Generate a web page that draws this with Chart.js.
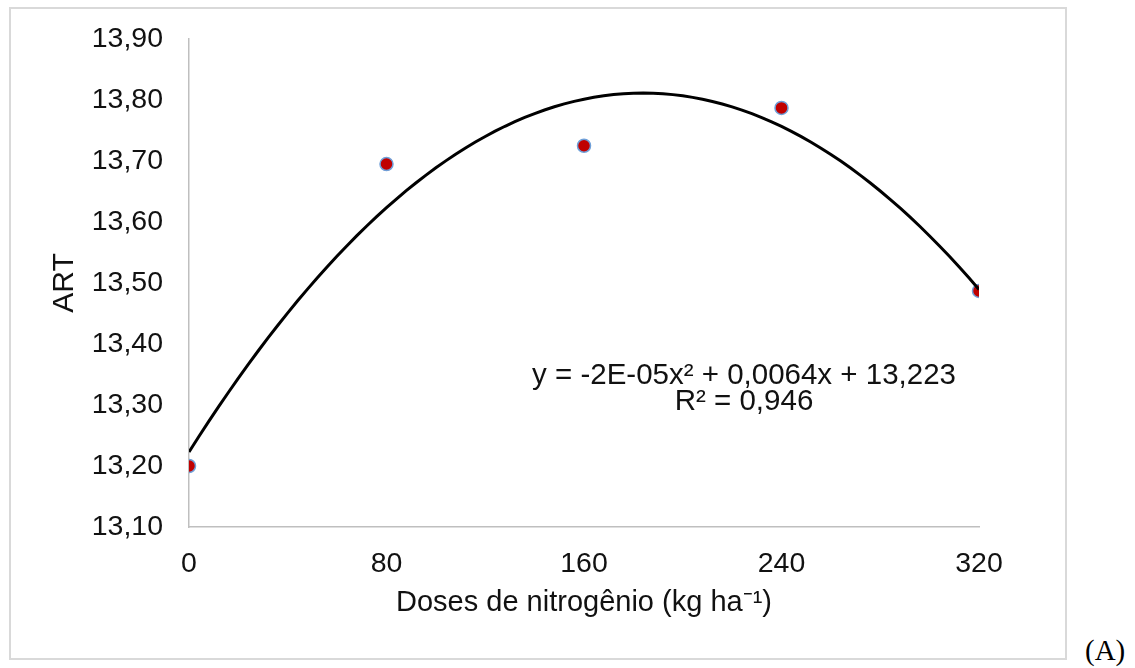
<!DOCTYPE html>
<html>
<head>
<meta charset="utf-8">
<script src="https://cdn.jsdelivr.net/npm/chart.js@4.4.1/dist/chart.umd.min.js"></script>
<style>
  body { margin: 0; background: #fff; }
  #box {
    position: absolute; left: 9px; top: 7px;
    width: 1058px; height: 653px;
    border: 2px solid #d9d9d9; box-sizing: border-box;
  }
  #wrap { position: relative; width: 100%; height: 100%; }
  #tag {
    position: absolute; left: 1085px; top: 634px;
    font: 29px "Liberation Serif", "Times New Roman", serif; color: #000;
  }
</style>
</head>
<body>
<div id="box"><div id="wrap"><canvas id="myChart"></canvas></div></div>
<div id="tag">(A)</div>
<script>
const doses = [0, 80, 160, 240, 320];
const art = [13.20, 13.695, 13.725, 13.787, 13.487];
const xTicks = [0, 80, 160, 240, 320];
const yTicks = [13.10, 13.20, 13.30, 13.40, 13.50, 13.60, 13.70, 13.80, 13.90];
const eqLines = ['y = -2E-05x\u00b2 + 0,0064x + 13,223', 'R\u00b2 = 0,946'];

// least squares quadratic fit (polynomial trendline of order 2)
function quadFit(xs, ys) {
  let s = [0, 0, 0, 0, 0], t = [0, 0, 0];
  xs.forEach((x, i) => {
    for (let k = 0; k < 5; k++) s[k] += Math.pow(x, k);
    for (let k = 0; k < 3; k++) t[k] += Math.pow(x, k) * ys[i];
  });
  const m = [[s[0], s[1], s[2], t[0]], [s[1], s[2], s[3], t[1]], [s[2], s[3], s[4], t[2]]];
  for (let i = 0; i < 3; i++) {
    for (let j = i + 1; j < 3; j++) {
      const f = m[j][i] / m[i][i];
      for (let k = i; k < 4; k++) m[j][k] -= f * m[i][k];
    }
  }
  const c = [0, 0, 0];
  for (let i = 2; i >= 0; i--) {
    let v = m[i][3];
    for (let k = i + 1; k < 3; k++) v -= m[i][k] * c[k];
    c[i] = v / m[i][i];
  }
  return c; // c0 + c1 x + c2 x^2
}

const coef = quadFit(doses, art);
const trend = [];
for (let x = doses[0]; x <= doses[doses.length - 1]; x += 4) {
  trend.push({ x: x, y: coef[0] + coef[1] * x + coef[2] * x * x });
}

const font = '"Liberation Sans", Arial, sans-serif';

const equationLabel = {
  id: 'equationLabel',
  afterDatasetsDraw(chart) {
    const { ctx, chartArea } = chart;
    ctx.save();
    ctx.font = '29.5px ' + font;
    ctx.fillStyle = '#111';
    ctx.textAlign = 'center';
    ctx.textBaseline = 'alphabetic';
    const cx = chartArea.left + 555;
    ctx.fillText(eqLines[0], cx, chartArea.top + 345);
    ctx.fillText(eqLines[1], cx, chartArea.top + 371);
    ctx.restore();
  }
};

new Chart(document.getElementById('myChart'), {
  type: 'scatter',
  data: {
    datasets: [{
      type: 'line',
      data: trend,
      borderColor: '#000',
      borderWidth: 3,
      pointRadius: 0,
      tension: 0,
      order: 0
    }, {
      data: doses.map((d, i) => ({ x: d, y: art[i] })),
      backgroundColor: '#c00000',
      borderColor: '#6f9fd8',
      borderWidth: 1.5,
      pointRadius: 6.5,
      order: 1
    }]
  },
  options: {
    responsive: true,
    maintainAspectRatio: false,
    animation: false,
    events: [],
    layout: { padding: { left: 0, top: 30, right: 86, bottom: 0 } },
    scales: {
      x: {
        type: 'linear',
        min: 0,
        max: 320,
        afterBuildTicks: s => { s.ticks = xTicks.map(v => ({ value: v })); },
        afterFit: s => { s.height = 131; s.paddingLeft = 0; s.paddingRight = 0; },
        grid: { display: false, drawTicks: false },
        border: { display: true, color: '#bfbfbf', width: 1.5 },
        ticks: { color: '#111', font: { family: font, size: 28.5 }, padding: 20, maxRotation: 0 },
        title: {
          display: true,
          text: 'Doses de nitrogênio (kg ha\u207b\u00b9)',
          color: '#111',
          font: { family: font, size: 29 },
          padding: { top: 0, bottom: 38 }
        }
      },
      y: {
        min: 13.1,
        max: 13.9,
        afterBuildTicks: s => { s.ticks = yTicks.map(v => ({ value: v })); },
        afterFit: s => { s.width = 178; s.paddingTop = 0; s.paddingBottom = 0; },
        grid: { display: false, drawTicks: false },
        border: { display: true, color: '#bfbfbf', width: 1.5 },
        ticks: {
          color: '#111',
          font: { family: font, size: 28.5 },
          padding: 26,
          callback: v => v.toFixed(2).replace('.', ',')
        },
        title: {
          display: true,
          text: 'ART',
          color: '#111',
          font: { family: font, size: 30 },
          padding: { top: 36, bottom: 0 }
        }
      }
    },
    plugins: {
      legend: { display: false },
      tooltip: { enabled: false }
    }
  },
  plugins: [equationLabel]
});
</script>
</body>
</html>
